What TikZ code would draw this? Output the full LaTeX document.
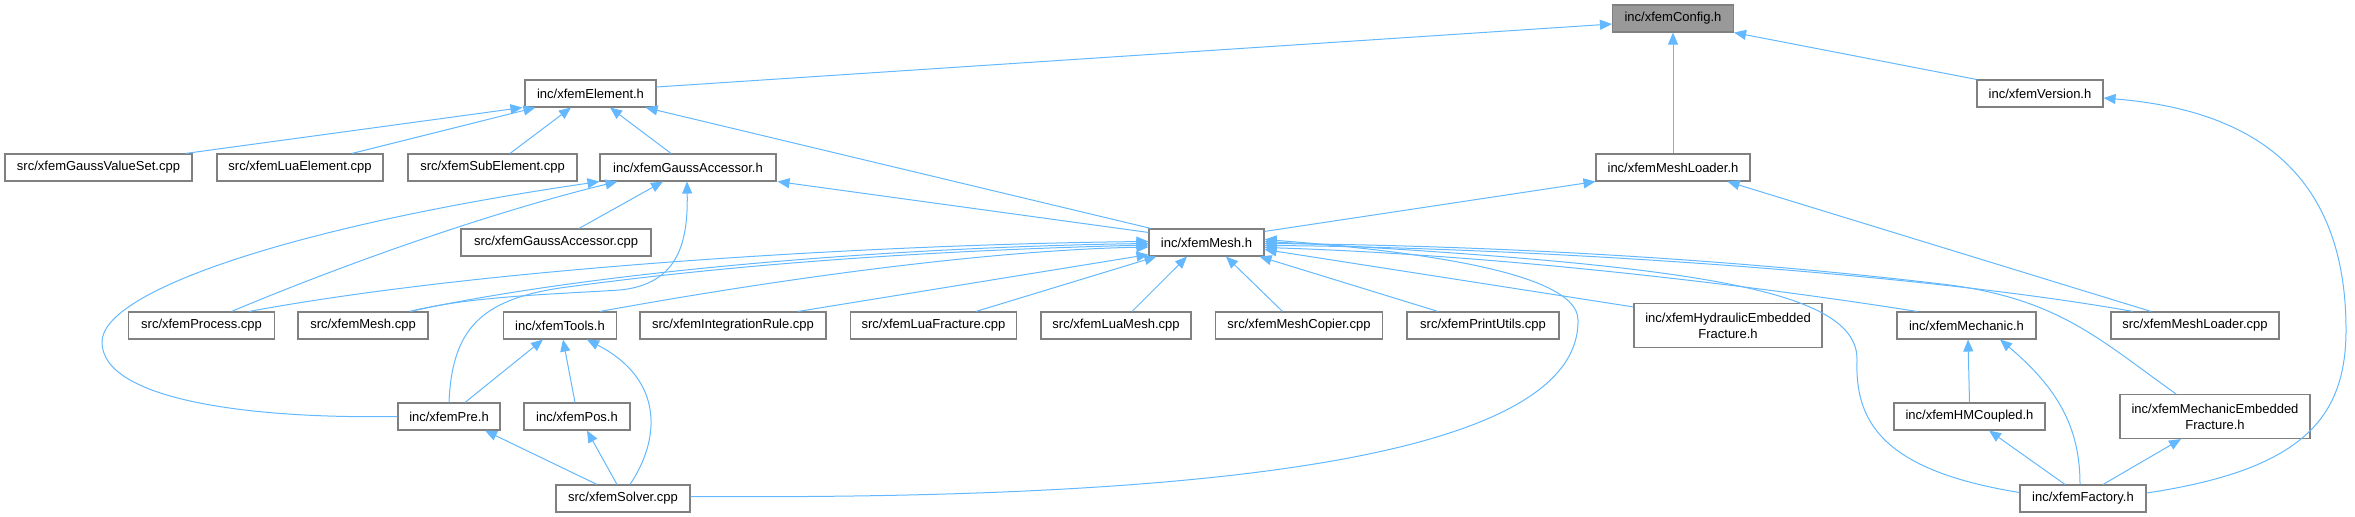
\documentclass[tikz,border=0pt]{standalone}
\usepackage{fontspec}
\setmainfont{Liberation Sans}
\usetikzlibrary{arrows.meta,calc}
\definecolor{edgeblue}{RGB}{99,184,255}
\definecolor{boxgray}{RGB}{128,128,128}
\definecolor{cfgfill}{RGB}{153,153,153}
\tikzset{
  file/.style={draw=boxgray, line width=1.1bp, fill=white, inner sep=0pt, minimum height=27bp,
    font=\fontsize{13bp}{16bp}\selectfont, align=center},
  twoline/.style={file, minimum height=44bp},
  dep/.style={draw=edgeblue, line width=1bp, -{Triangle[length=12bp,width=10bp]}, fill=none}
}
\begin{document}
\begin{tikzpicture}[x=1bp,y=-1bp]
\useasboundingbox (0,0) rectangle (2355,517);
% nodes
\node[file, fill=cfgfill, minimum width=121bp] (config) at (1673,18.5) {inc/xfemConfig.h};
\node[file, minimum width=131bp] (element) at (590.5,93.5) {inc/xfemElement.h};
\node[file, minimum width=126bp] (version) at (2040,93.5) {inc/xfemVersion.h};
\node[file, minimum width=187bp] (gvs) at (98.5,167.5) {src/xfemGaussValueSet.cpp};
\node[file, minimum width=166bp] (luael) at (300,167.5) {src/xfemLuaElement.cpp};
\node[file, minimum width=169bp] (subel) at (492.5,167.5) {src/xfemSubElement.cpp};
\node[file, minimum width=176bp] (gaussh) at (688,167.5) {inc/xfemGaussAccessor.h};
\node[file, minimum width=154bp] (mlh) at (1673,167.5) {inc/xfemMeshLoader.h};
\node[file, minimum width=190bp] (gausscpp) at (556,242.5) {src/xfemGaussAccessor.cpp};
\node[file, minimum width=115bp] (meshh) at (1206.5,242.5) {inc/xfemMesh.h};
\node[file, minimum width=146bp] (process) at (201.5,325.5) {src/xfemProcess.cpp};
\node[file, minimum width=130bp] (meshcpp) at (363,325.5) {src/xfemMesh.cpp};
\node[file, minimum width=113bp] (tools) at (560,325.5) {inc/xfemTools.h};
\node[file, minimum width=186bp] (integ) at (733,325.5) {src/xfemIntegrationRule.cpp};
\node[file, minimum width=166bp] (luafrac) at (933.5,325.5) {src/xfemLuaFracture.cpp};
\node[file, minimum width=150bp] (luamesh) at (1116,325.5) {src/xfemLuaMesh.cpp};
\node[file, minimum width=167bp] (copier) at (1299,325.5) {src/xfemMeshCopier.cpp};
\node[file, minimum width=152bp] (print) at (1483,325.5) {src/xfemPrintUtils.cpp};
\node[twoline, minimum width=188bp] (hydr) at (1728,325.5) {inc/xfemHydraulicEmbedded\\Fracture.h};
\node[file, minimum width=139bp] (mech) at (1966.5,325.5) {inc/xfemMechanic.h};
\node[file, minimum width=168bp] (mlcpp) at (2195,325.5) {src/xfemMeshLoader.cpp};
\node[file, minimum width=102bp] (pre) at (449,416.5) {inc/xfemPre.h};
\node[file, minimum width=106bp] (pos) at (577,416.5) {inc/xfemPos.h};
\node[file, minimum width=151bp] (hmc) at (1969.5,416.5) {inc/xfemHMCoupled.h};
\node[twoline, minimum width=190bp] (mechemb) at (2215,416.5) {inc/xfemMechanicEmbedded\\Fracture.h};
\node[file, minimum width=134bp] (solver) at (623,498.5) {src/xfemSolver.cpp};
\node[file, minimum width=126bp] (factory) at (2083,498.5) {inc/xfemFactory.h};
% edges to config
\draw[dep] ($(element.east)+(0,-6.5)$) -- ($(config.west)+(0,5.5)$);
\draw[dep] (mlh.north) -- (config.south);
\draw[dep] (version.north west) -- (config.south east);
% edges to element
\draw[dep] ($(gvs.north)+(87,0)$) -- ($(element.south west)+(-2,0)$);
\draw[dep] ($(luael.north)+(52,0)$) -- ($(element.south west)+(11,0)$);
\draw[dep] ($(subel.north)+(17.5,0)$) -- ($(element.south)+(-19.5,0)$);
\draw[dep] ($(gaussh.north)+(-17,0)$) -- ($(element.south)+(19.5,0)$);
\draw[dep] ($(meshh.north west)+(2.5,0)$) -- ($(element.south east)+(-11,0)$);
% edges to gauss accessor
\draw[dep] ($(meshh.north west)+(0,4)$) -- ($(gaussh.south east)+(1,0)$);
\draw[dep] ($(gausscpp.north)+(23,0)$) -- ($(gaussh.south)+(-25,0)$);
\draw[dep] ($(process.north)+(30,0)$) .. controls (330,270) and (480,215) .. ($(gaussh.south west)+(18,0)$);
\draw[dep] (pre.west) .. controls (250,419) and (102,400) .. (102,342) .. controls (102,290) and (300,225) .. (gaussh.south west);
\draw[dep] ($(meshcpp.north)+(47,0)$) .. controls (470,296) and (560,294) .. (620,290) .. controls (680,284) and (688,240) .. ($(gaussh.south)+(-1,0)$);
% edges to mesh.h (left)
\draw[dep] ($(process.north)+(47.5,0)$) .. controls (500,265) and (900,244) .. ($(meshh.west)+(0,-1)$);
\draw[dep] ($(meshcpp.north)+(47,0)$) .. controls (600,270) and (900,247) .. ($(meshh.west)+(0,1)$);
\draw[dep] (pre.north) .. controls (452,330) and (480,300) .. (560,288) .. controls (750,262) and (950,250) .. ($(meshh.west)+(0,2.5)$);
\draw[dep] ($(tools.north)+(40,0)$) .. controls (800,275) and (1000,250) .. ($(meshh.west)+(0,4.5)$);
\draw[dep] ($(integ.north)+(65,0)$) -- ($(meshh.south west)+(0,-2)$);
\draw[dep] ($(luafrac.north)+(42.5,0)$) -- ($(meshh.south west)+(8,0)$);
\draw[dep] ($(luamesh.north)+(16,0)$) -- ($(meshh.south)+(-19.5,0)$);
\draw[dep] ($(copier.north)+(-16.5,0)$) -- ($(meshh.south)+(19.5,0)$);
\draw[dep] ($(print.north)+(-45,0)$) -- ($(meshh.south east)+(-5,0)$);
% edges to mesh.h (right)
\draw[dep] ($(hydr.north west)+(0,4)$) -- ($(meshh.east)+(0,7)$);
\draw[dep] ($(mech.north)+(-49.5,0)$) .. controls (1750,285) and (1500,255) .. ($(meshh.east)+(0,5)$);
\draw[dep] ($(mlcpp.north)+(-62,0)$) .. controls (1900,270) and (1500,247) .. ($(meshh.east)+(0,3)$);
\draw[dep] ($(mechemb.north)+(-39,0)$) .. controls (2100,340) and (2060,300) .. (1950,285) .. controls (1700,255) and (1450,245) .. ($(meshh.east)+(0,1)$);
\draw[dep] ($(factory.west)+(0,-6)$) .. controls (1880,470) and (1855,420) .. (1857,360) .. controls (1858,290) and (1700,265) .. ($(meshh.east)+(0,-1)$);
\draw[dep] ($(solver.east)+(0,-2)$) .. controls (1200,500) and (1580,460) .. (1578,320) .. controls (1578,270) and (1400,250) .. ($(meshh.east)+(0,-3)$);
% mesh loader
\draw[dep] ($(meshh.north east)+(0,3)$) -- (mlh.south west);
\draw[dep] ($(mlcpp.north)+(-44,0)$) -- ($(mlh.south east)+(-23,0)$);
% mechanic / factory
\draw[dep] (hmc.north) -- ($(mech.south)+(1.5,0)$);
\draw[dep] ($(factory.north)+(-3,0)$) .. controls (2080,430) and (2060,390) .. ($(mech.south)+(33.5,0)$);
\draw[dep] ($(factory.north)+(-18,0)$) -- ($(hmc.south)+(19.5,0)$);
\draw[dep] ($(factory.north)+(20,0)$) -- ($(mechemb.south)+(-34,0)$);
\draw[dep] ($(factory.east)+(0,-5.5)$) .. controls (2300,470) and (2346,420) .. (2346,330) .. controls (2346,170) and (2250,110) .. ($(version.east)+(0,4.5)$);
% tools / solver
\draw[dep] ($(solver.north)+(-26,0)$) -- ($(pre.south)+(36,0)$);
\draw[dep] ($(solver.north)+(-6,0)$) -- ($(pos.south)+(10,0)$);
\draw[dep] ($(solver.north)+(7,0)$) .. controls (660,440) and (665,380) .. ($(tools.south)+(27,0)$);
\draw[dep] ($(pre.north)+(16,0)$) -- ($(tools.south)+(-17,0)$);
\draw[dep] ($(pos.north)+(-2,0)$) -- ($(tools.south)+(3,0)$);
\end{tikzpicture}
\end{document}
